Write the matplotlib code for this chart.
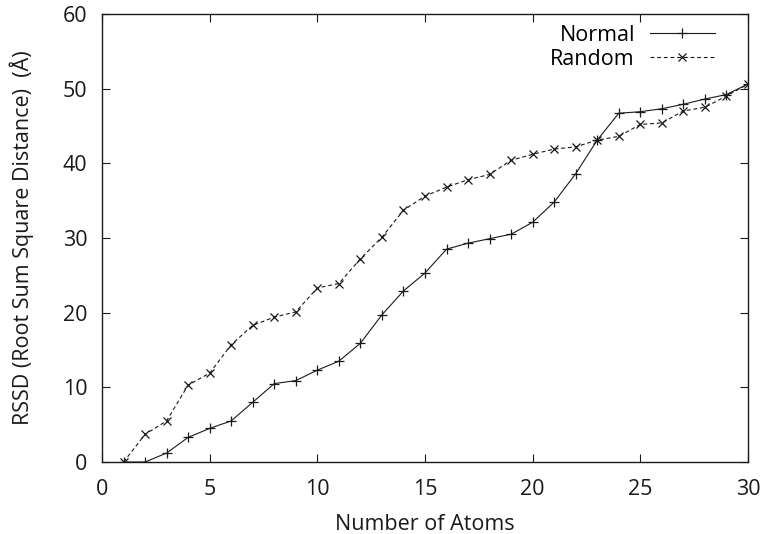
import matplotlib

matplotlib.use("Agg")
import matplotlib.pyplot as plt

# Values
atoms = list(range(1, 31))
normal = [0.0, 0.0, 1.2, 3.3, 4.5, 5.5, 8.0, 10.5, 10.9, 12.3, 13.5, 15.9,
          19.7, 22.9, 25.3, 28.5, 29.3, 29.9, 30.5, 32.1, 34.8, 38.6,
          43.1, 46.7, 46.9, 47.3, 47.9, 48.6, 49.2, 50.6]
random_ = [0.0, 3.7, 5.5, 10.3, 11.9, 15.7, 18.3, 19.4, 20.1, 23.3, 23.9, 27.2,
           30.1, 33.7, 35.6, 36.8, 37.8, 38.5, 40.4, 41.2, 41.9, 42.2,
           43.1, 43.6, 45.2, 45.4, 47.0, 47.5, 49.0, 50.6]

x_ticks = [0, 5, 10, 15, 20, 25, 30]
y_ticks = [0, 10, 20, 30, 40, 50, 60]

plt.rcParams["font.family"] = ["Open Sans", "DejaVu Sans"]
FS = 15.5
INK = "#1a1a1a"

fig = plt.figure(figsize=(7.64, 5.34), dpi=100)
ax = fig.add_axes([0.1335, 0.1348, 0.8455, 0.8392])

ax.plot(atoms, normal, "-", color=INK, linewidth=0.8,
        marker="+", markersize=7, markeredgewidth=0.9, label="Normal")
ax.plot(atoms, random_, "--", color=INK, linewidth=0.8, dashes=(3.5, 2.5),
        marker="x", markersize=6, markeredgewidth=0.9, label="Random")

ax.set_xlim(0, 30)
ax.set_ylim(0, 60)
ax.set_xticks(x_ticks)
ax.set_yticks(y_ticks)
ax.tick_params(direction="in", length=6, width=0.8, top=True, right=True,
               labelsize=FS, colors=INK)
ax.tick_params(axis="x", pad=12)
ax.tick_params(axis="y", pad=10.5)
for spine in ax.spines.values():
    spine.set_linewidth(1.0)
    spine.set_color(INK)

ax.set_xlabel("Number of Atoms", fontsize=FS, labelpad=10, color=INK)
ax.set_ylabel("RSSD (Root Sum Square Distance)  (\u00c5)", fontsize=FS,
              labelpad=21, color=INK)

ax.legend(loc="upper right", frameon=False, markerfirst=False, fontsize=FS,
          handlelength=3.0, handletextpad=0.7, borderaxespad=0.2,
          borderpad=0.3, labelspacing=0.15, bbox_to_anchor=(0.965, 1.0))

fig.savefig("out.png", dpi=100)
